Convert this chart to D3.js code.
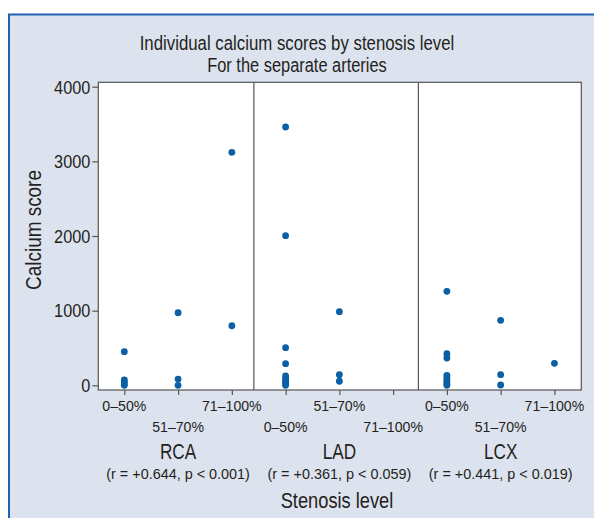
<!DOCTYPE html>
<html>
<head>
<meta charset="utf-8">
<script src="https://cdn.jsdelivr.net/npm/d3@7"></script>
<style>
  body { margin: 0; background: #fff; }
  text { font-family: "Liberation Sans", Arial, sans-serif; fill: #231f20; }
</style>
</head>
<body>
<div id="chart"></div>
<script>
// categories
var arteries = ["RCA", "LAD", "LCX"];
var levels = ["0–50%", "51–70%", "71–100%"];
var stats = ["(r = +0.644, p < 0.001)", "(r = +0.361, p < 0.059)", "(r = +0.441, p < 0.019)"];
var yTicks = [0, 1000, 2000, 3000, 4000];

// calcium scores, one list per stenosis level
var rcaScores = [[450, 71, 44, 20, 0], [972, 84, 0], [3121, 798]];
var ladScores = [[3460, 2004, 504, 290, 125, 90, 71, 45, 27, 0], [986, 142, 54], []];
var lcxScores = [[1259, 423, 366, 134, 100, 71, 45, 20, 0], [871, 142, 4], [295]];

var W = 594, H = 518;
var margin = {top: 82.3, left: 98.3, right: 12.7, bottom: 128};

// squeeze text horizontally, the original uses a condensed face
function condense(sel, f) {
  sel.each(function() {
    var w = this.getComputedTextLength();
    d3.select(this).attr("textLength", w * f).attr("lengthAdjust", "spacingAndGlyphs");
  });
  return sel;
}

var svg = d3.select("#chart").append("svg")
    .attr("width", W)
    .attr("height", H);

// background panel
svg.append("rect")
    .attr("x", 9).attr("y", 14.5)
    .attr("width", 600).attr("height", 520)
    .attr("fill", "#dde3ee")
    .attr("stroke", "#1f63b0")
    .attr("stroke-width", 2);

var x = d3.scaleLinear().domain([-0.484, 8.5]).range([margin.left, W - margin.right]);
var y = d3.scaleLinear().domain([-63, 4059]).range([H - margin.bottom, margin.top]);

var allScores = [rcaScores, ladScores, lcxScores];
var points = [];
allScores.forEach(function(a, ai) {
  a.forEach(function(list, li) {
    list.forEach(function(v) { points.push({idx: ai * 3 + li, v: v}); });
  });
});

// plot area
svg.append("rect")
    .attr("x", x.range()[0]).attr("y", y.range()[1])
    .attr("width", x.range()[1] - x.range()[0])
    .attr("height", y.range()[0] - y.range()[1])
    .attr("fill", "#fff")
    .attr("stroke", "#555")
    .attr("stroke-width", 1.2);

// panel dividers
[2.41, 5.47].forEach(function(d) {
  svg.append("line")
      .attr("x1", x(d)).attr("x2", x(d))
      .attr("y1", y.range()[1]).attr("y2", y.range()[0])
      .attr("stroke", "#555").attr("stroke-width", 1.2);
});

// y axis
var yAxis = d3.axisLeft(y).tickValues(yTicks).tickSize(6).tickPadding(2).tickFormat(d3.format("d"));
var gy = svg.append("g")
    .attr("transform", "translate(" + x.range()[0] + ",0)")
    .call(yAxis);
gy.select(".domain").remove();
gy.selectAll("line").attr("stroke", "#555").attr("stroke-width", 1.2);
gy.selectAll("text").attr("font-size", 17.5).attr("fill", "#231f20")
    .attr("font-family", null).attr("dy", "0.36em");
condense(gy.selectAll("text"), 0.93);

// x axis, staggered labels
var xAxis = d3.axisBottom(x).tickValues(d3.range(9)).tickSize(5).tickFormat("");
var gx = svg.append("g")
    .attr("transform", "translate(0," + y.range()[0] + ")")
    .call(xAxis);
gx.select(".domain").remove();
gx.selectAll("line").attr("stroke", "#555").attr("stroke-width", 1.2);

d3.range(9).forEach(function(i) {
  var t = svg.append("text")
      .attr("x", x(i))
      .attr("y", i % 2 === 0 ? 411 : 431.5)
      .attr("text-anchor", "middle")
      .attr("font-size", 15)
      .text(levels[i % 3]);
  condense(t, 0.94);
});

// artery names and stats
arteries.forEach(function(a, i) {
  condense(svg.append("text")
      .attr("x", x(i * 3 + 1)).attr("y", 458.5)
      .attr("text-anchor", "middle")
      .attr("font-size", 22)
      .text(a), 0.78);
  condense(svg.append("text")
      .attr("x", x(i * 3 + 1)).attr("y", 479)
      .attr("text-anchor", "middle")
      .attr("font-size", 15)
      .text(stats[i]), 0.96);
});

// points
svg.selectAll("circle.pt")
    .data(points)
    .enter().append("circle")
    .attr("class", "pt")
    .attr("cx", function(d) { return x(d.idx); })
    .attr("cy", function(d) { return y(d.v); })
    .attr("r", 3.4)
    .attr("fill", "#0b5fa5");

// titles
condense(svg.append("text").attr("x", 297).attr("y", 49.5).attr("text-anchor", "middle")
    .attr("font-size", 20).text("Individual calcium scores by stenosis level"), 0.84);
condense(svg.append("text").attr("x", 297).attr("y", 72).attr("text-anchor", "middle")
    .attr("font-size", 20).text("For the separate arteries"), 0.82);

condense(svg.append("text")
    .attr("transform", "translate(40.5,230) rotate(-90)")
    .attr("text-anchor", "middle")
    .attr("font-size", 22)
    .text("Calcium score"), 0.86);

condense(svg.append("text")
    .attr("x", 337).attr("y", 508)
    .attr("text-anchor", "middle")
    .attr("font-size", 22)
    .text("Stenosis level"), 0.83);
</script>
</body>
</html>
